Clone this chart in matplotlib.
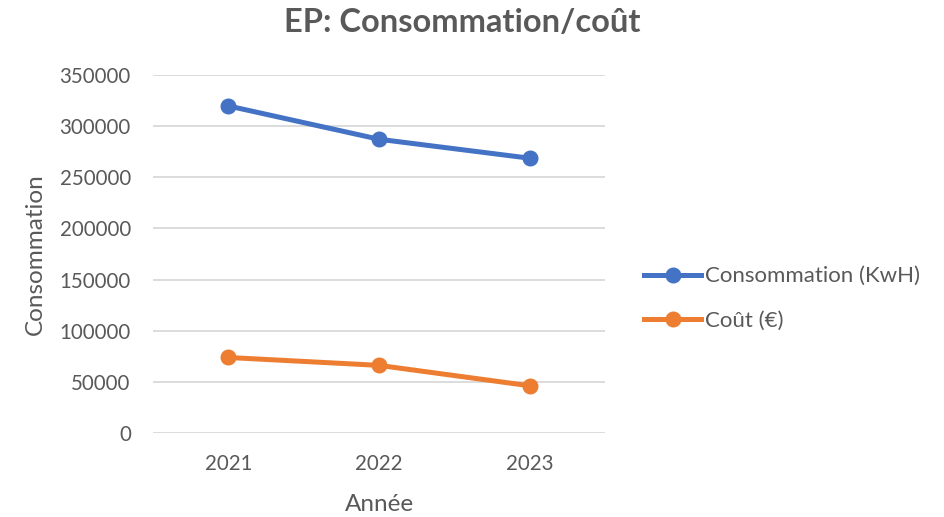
import matplotlib
matplotlib.use("Agg")
import matplotlib.pyplot as plt

years = ["2021", "2022", "2023"]
consommation = [319500, 287000, 268500]
cout = [74000, 66300, 46400]
yticks = [0, 50000, 100000, 150000, 200000, 250000, 300000, 350000]

plt.rcParams['font.family'] = ['Lato', 'DejaVu Sans']
txt = '#595959'

fig = plt.figure(figsize=(9.45, 5.17), dpi=100)
ax = fig.add_axes([153/945, 1-433.3/517, (605-153)/945, (433.3-74.7)/517])

x = list(range(len(years)))
ax.plot(x, consommation, color='#4472C4', lw=3.6, marker='o', ms=10.5, label='Consommation (KwH)', zorder=3)
ax.plot(x, cout, color='#ED7D31', lw=3.6, marker='o', ms=10.5, label='Coût (€)', zorder=3)

ax.set_xlim(-0.5, len(years)-0.5)
ax.set_ylim(0, 350000)
ax.set_yticks(yticks)
ax.set_yticklabels([str(v) for v in yticks])
ax.set_xticks(x)
ax.set_xticklabels(years)
ax.grid(axis='y', color='#d9d9d9', lw=1.3)
ax.set_axisbelow(True)
for s in ['top', 'right', 'left', 'bottom']:
    ax.spines[s].set_visible(False)
ax.tick_params(length=0, labelsize=14.8, colors=txt)
ax.tick_params(axis='x', pad=15)
ax.tick_params(axis='y', pad=16)
ax.set_ylabel('Consommation', fontsize=17.5, color=txt, labelpad=10)
ax.set_xlabel('Année', fontsize=17.5, color=txt, labelpad=14)

fig.text(462.5/945, 1-22/517, 'EP: Consommation/coût', ha='center', va='center',
         fontsize=23.5, fontweight='bold', color=txt)

leg = fig.legend(loc='center left', bbox_to_anchor=(644/945, 1-298.5/517), bbox_transform=fig.transFigure,
                 frameon=False, fontsize=16, labelcolor=txt, handlelength=2.57, handletextpad=0.18,
                 labelspacing=1.1, borderaxespad=0, borderpad=0)

fig.savefig('out.png', dpi=100)
